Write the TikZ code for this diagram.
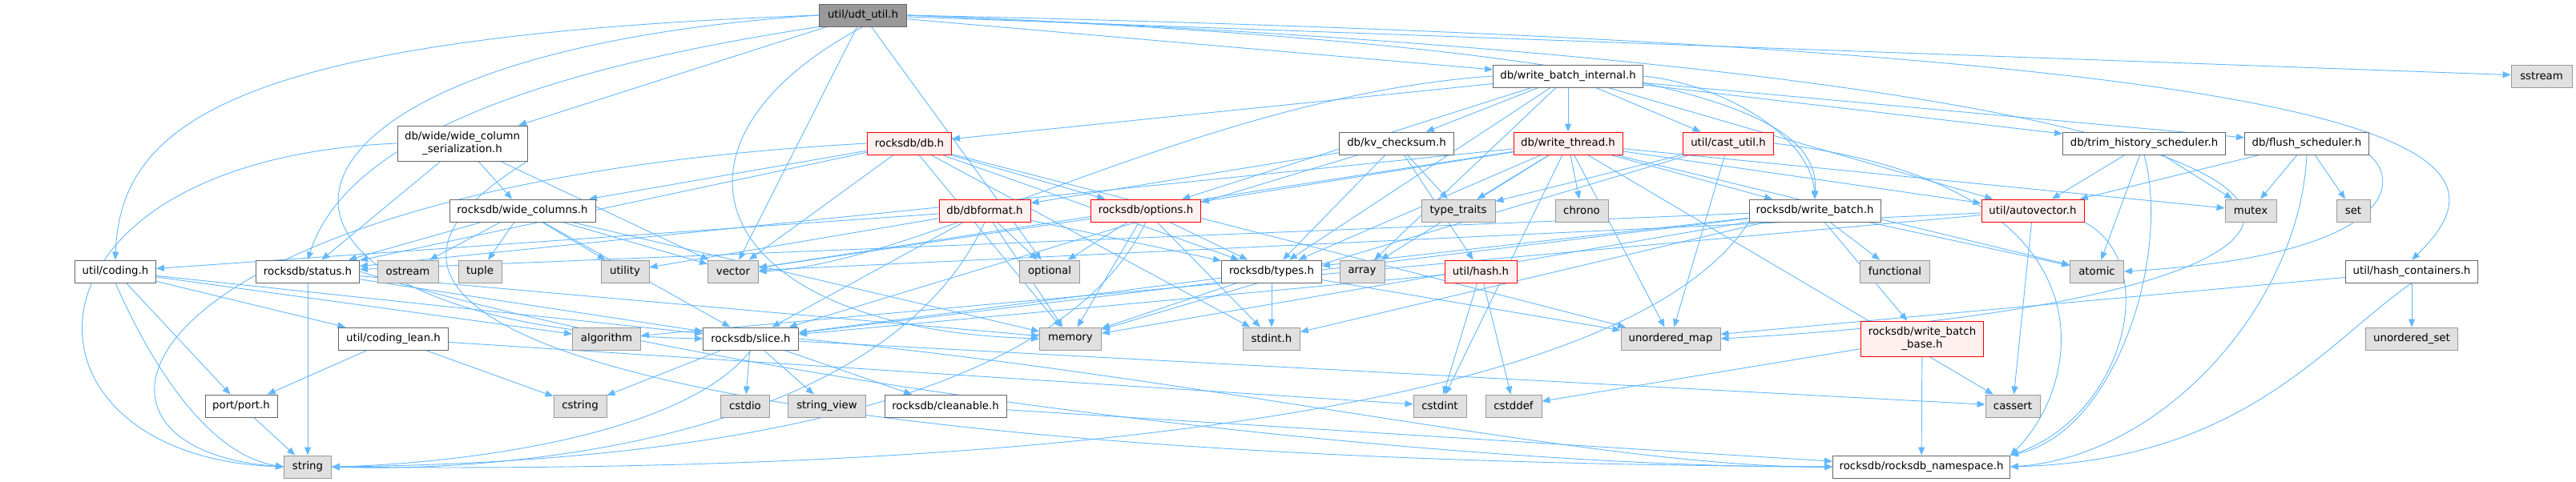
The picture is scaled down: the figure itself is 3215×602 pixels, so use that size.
\documentclass[tikz,border=0pt]{standalone}
\usepackage{fontspec}
\setmainfont{DejaVu Sans}
\usepackage{tikz}
\usetikzlibrary{arrows.meta}
\usetikzlibrary{backgrounds}

\definecolor{edgeBlue}{HTML}{63B8FF}
\definecolor{sysFill}{HTML}{E0E0E0}
\definecolor{sysLine}{HTML}{999999}
\definecolor{fileLine}{HTML}{666666}
\definecolor{truncFill}{HTML}{FFF0F0}
\definecolor{rootFill}{HTML}{999999}

\newcommand{\hdrfont}{\fontsize{13.3pt}{16pt}\selectfont}

\begin{document}
\begin{tikzpicture}[
  x=1pt, y=-1pt,
  % one box per header, widths taken from the graph
  hdrFile/.style={rectangle, draw=fileLine, fill=white, line width=0.9pt,
    minimum height=28pt, inner sep=0pt, font=\hdrfont, align=center},
  hdrSys/.style={hdrFile, draw=sysLine, fill=sysFill},
  hdrTrunc/.style={hdrFile, draw=red, fill=truncFill},
  hdrRoot/.style={hdrFile, draw=fileLine, fill=rootFill},
  wd/.style={minimum width=#1pt},
]

\tikzset{
  incl/.style={draw=edgeBlue, line width=0.9pt, -{Triangle[length=10pt,width=8pt]}}
}

\useasboundingbox (0,0) rectangle (3215,602);

% --- row 0 / 1 ---
\node[hdrRoot, wd=109] (udtUtil) at (1077,19) {util/udt\_util.h};
\node[hdrFile, wd=187] (wbInternal) at (1957,95) {db/write\_batch\_internal.h};
\node[hdrSys, wd=76] (sstream) at (3172,95) {sstream};

% --- row 2 ---
\node[hdrFile, wd=162, minimum height=44pt] (wcSerial) at (577,179) {db/wide/wide\_column\\\_serialization.h};
\node[hdrTrunc, wd=105] (rdbDb) at (1135,179) {rocksdb/db.h};
\node[hdrFile, wd=143] (kvChecksum) at (1743,179) {db/kv\_checksum.h};
\node[hdrTrunc, wd=136] (writeThread) at (1957,179) {db/write\_thread.h};
\node[hdrTrunc, wd=113] (castUtil) at (2157,179) {util/cast\_util.h};
\node[hdrFile, wd=203] (trimSched) at (2676,179) {db/trim\_history\_scheduler.h};
\node[hdrFile, wd=155] (flushSched) at (2879,179) {db/flush\_scheduler.h};

% --- row 3 ---
\node[hdrFile, wd=182] (wideCols) at (652,263) {rocksdb/wide\_columns.h};
\node[hdrTrunc, wd=114] (dbFormat) at (1229,263) {db/dbformat.h};
\node[hdrTrunc, wd=137] (rdbOptions) at (1430,263) {rocksdb/options.h};
\node[hdrSys, wd=92] (typeTraits) at (1820,263) {type\_traits};
\node[hdrSys, wd=66] (chrono) at (1974,263) {chrono};
\node[hdrFile, wd=164] (writeBatch) at (2265,263) {rocksdb/write\_batch.h};
\node[hdrTrunc, wd=128] (autoVec) at (2537,263) {util/autovector.h};
\node[hdrSys, wd=64] (mutex) at (2809,263) {mutex};
\node[hdrSys, wd=42] (setHdr) at (2937,263) {set};

% --- row 4 ---
\node[hdrFile, wd=101] (codingH) at (144,339) {util/coding.h};
\node[hdrFile, wd=129] (statusH) at (384,339) {rocksdb/status.h};
\node[hdrSys, wd=76] (ostream) at (509,339) {ostream};
\node[hdrSys, wd=54] (tuple) at (599,339) {tuple};
\node[hdrSys, wd=60] (utility) at (780,339) {utility};
\node[hdrSys, wd=63] (vectorHdr) at (915,339) {vector};
\node[hdrSys, wd=75] (optional) at (1310,339) {optional};
\node[hdrFile, wd=125] (typesH) at (1587,339) {rocksdb/types.h};
\node[hdrSys, wd=56] (arrayHdr) at (1700,339) {array};
\node[hdrTrunc, wd=90] (hashH) at (1848,339) {util/hash.h};
\node[hdrSys, wd=87] (functional) at (2365,339) {functional};
\node[hdrSys, wd=67] (atomic) at (2617,339) {atomic};
\node[hdrFile, wd=165] (hashCont) at (3010,339) {util/hash\_containers.h};

% --- row 5 ---
\node[hdrFile, wd=137] (codingLean) at (491,423) {util/coding\_lean.h};
\node[hdrSys, wd=85] (algorithm) at (757,423) {algorithm};
\node[hdrFile, wd=119] (sliceH) at (937,423) {rocksdb/slice.h};
\node[hdrSys, wd=77] (memory) at (1336,423) {memory};
\node[hdrSys, wd=71] (stdintH) at (1587,423) {stdint.h};
\node[hdrSys, wd=124] (unordMap) at (2085,423) {unordered\_map};
\node[hdrTrunc, wd=153, minimum height=44pt] (wbBase) at (2399,423) {rocksdb/write\_batch\\\_base.h};
\node[hdrSys, wd=115] (unordSet) at (3010,423) {unordered\_set};

% --- row 6 / 7 ---
\node[hdrFile, wd=90] (portH) at (301,507) {port/port.h};
\node[hdrSys, wd=66] (cstring) at (724,507) {cstring};
\node[hdrSys, wd=61] (cstdio) at (930,507) {cstdio};
\node[hdrSys, wd=97] (strView) at (1032,507) {string\_view};
\node[hdrFile, wd=152] (cleanable) at (1180,507) {rocksdb/cleanable.h};
\node[hdrSys, wd=66] (cstdint) at (1797,507) {cstdint};
\node[hdrSys, wd=70] (cstddef) at (1889,507) {cstddef};
\node[hdrSys, wd=68] (cassert) at (2512,507) {cassert};
\node[hdrSys, wd=59] (stringHdr) at (384,583) {string};
\node[hdrFile, wd=221] (rdbNs) at (2398,583) {rocksdb/rocksdb\_namespace.h};

\begin{pgfonlayer}{background}
\fill[white] (0,0) rectangle (3215,602);

% straight includes
\foreach \src/\dst in {
  udtUtil/wbInternal, udtUtil/wcSerial, udtUtil/vectorHdr, udtUtil/optional, udtUtil/sstream,
  wbInternal/rdbDb, wbInternal/kvChecksum, wbInternal/writeThread, wbInternal/castUtil,
  wbInternal/trimSched, wbInternal/flushSched, wbInternal/rdbOptions, wbInternal/typesH,
  wbInternal/autoVec, wbInternal/arrayHdr,
  wcSerial/wideCols, wcSerial/statusH, wcSerial/vectorHdr,
  rdbDb/wideCols, rdbDb/rdbOptions, rdbDb/typesH, rdbDb/statusH, rdbDb/vectorHdr,
  rdbDb/memory, rdbDb/stdintH, rdbDb/unordMap,
  kvChecksum/typesH, kvChecksum/typeTraits, kvChecksum/hashH, kvChecksum/dbFormat, kvChecksum/sliceH,
  writeThread/rdbOptions, writeThread/statusH, writeThread/typesH, writeThread/autoVec,
  writeThread/typeTraits, writeThread/chrono, writeThread/vectorHdr, writeThread/arrayHdr,
  writeThread/unordMap, writeThread/atomic, writeThread/mutex, writeThread/cstdint,
  writeThread/cassert, writeThread/writeBatch,
  castUtil/typeTraits, castUtil/memory, castUtil/unordMap,
  trimSched/autoVec, trimSched/atomic, trimSched/mutex,
  flushSched/autoVec, flushSched/mutex, flushSched/setHdr,
  hashCont/unordSet, hashCont/unordMap,
  wideCols/statusH, wideCols/ostream, wideCols/tuple, wideCols/utility, wideCols/vectorHdr,
  wideCols/sliceH, wideCols/memory,
  dbFormat/sliceH, dbFormat/typesH, dbFormat/optional, dbFormat/memory, dbFormat/utility, dbFormat/codingH,
  rdbOptions/optional, rdbOptions/typesH, rdbOptions/memory, rdbOptions/stdintH, rdbOptions/vectorHdr,
  typesH/sliceH, typesH/stdintH, typesH/memory, typesH/unordMap,
  hashH/sliceH, hashH/cstdint, hashH/cstddef,
  writeBatch/statusH, writeBatch/typesH, writeBatch/sliceH, writeBatch/functional,
  writeBatch/atomic, writeBatch/memory, writeBatch/stdintH, writeBatch/wbBase,
  autoVec/vectorHdr, autoVec/cassert, autoVec/algorithm,
  wbBase/cstddef, wbBase/rdbNs,
  sliceH/cstring, sliceH/cstdio, sliceH/strView, sliceH/cleanable, sliceH/cassert,
  cleanable/rdbNs,
  statusH/stringHdr, statusH/sliceH, statusH/memory,
  codingH/portH, codingH/codingLean, codingH/algorithm, codingH/sliceH,
  codingLean/portH, codingLean/cstring, codingLean/cstdint,
  portH/stringHdr} {
  \draw[incl] (\src) -- (\dst);
}

% long routed includes
\draw[incl] (udtUtil.west) .. controls (300,45) and (150,150) .. (codingH.north);
\draw[incl] (udtUtil.west) .. controls (250,70) and (250,410) .. (sliceH.west);
\draw[incl] (udtUtil.south west) .. controls (650,90) and (430,180) .. (statusH.north);
\draw[incl] (udtUtil.south) .. controls (800,180) and (880,410) .. (memory.west);
\draw[incl] (udtUtil.east) .. controls (3000,60) and (3160,180) .. (hashCont.north);
\draw[incl] (udtUtil.east) .. controls (3200,100) and (3100,370) .. (unordMap.east);
\draw[incl] (udtUtil.east) .. controls (2150,60) and (2270,150) .. (writeBatch.north);
\draw[incl] (wbInternal.east) .. controls (2150,105) and (2260,170) .. (writeBatch.north);
\draw[incl] (wbInternal.west) .. controls (1500,120) and (1150,330) .. (vectorHdr.east);
\draw[incl] (wcSerial.west) .. controls (0,200) and (0,570) .. (stringHdr.west);
\draw[incl] (wcSerial.south east) .. controls (300,420) and (900,575) .. (rdbNs.west);
\draw[incl] (rdbDb.west) .. controls (150,230) and (40,560) .. (stringHdr.west);
\draw[incl] (dbFormat.south) .. controls (1100,560) and (600,590) .. (stringHdr.east);
\draw[incl] (rdbOptions.south) .. controls (1300,550) and (700,580) .. (stringHdr.east);
\draw[incl] (writeBatch.south west) .. controls (2000,560) and (1000,590) .. (stringHdr.east);
\draw[incl] (sliceH.south) .. controls (850,550) and (550,580) .. (stringHdr.east);
\draw[incl] (codingH.south) .. controls (200,480) and (270,570) .. (stringHdr.west);
\draw[incl] (autoVec.south east) .. controls (2700,330) and (2650,520) .. (rdbNs.north east);
\draw[incl] (trimSched.south) .. controls (2710,320) and (2640,540) .. (rdbNs.north east);
\draw[incl] (flushSched.south) .. controls (2870,380) and (2700,570) .. (rdbNs.east);
\draw[incl] (flushSched.south east) .. controls (3000,230) and (2980,320) .. (atomic.east);
\draw[incl] (hashCont.south) .. controls (2900,430) and (2800,575) .. (rdbNs.east);
\draw[incl] (castUtil.east) .. controls (2650,230) and (2600,480) .. (rdbNs.north east);
\draw[incl] (statusH.east) .. controls (900,480) and (1800,585) .. (rdbNs.west);
\draw[incl] (sliceH.east) .. controls (1500,470) and (2000,585) .. (rdbNs.west);
\end{pgfonlayer}

\end{tikzpicture}
\end{document}
